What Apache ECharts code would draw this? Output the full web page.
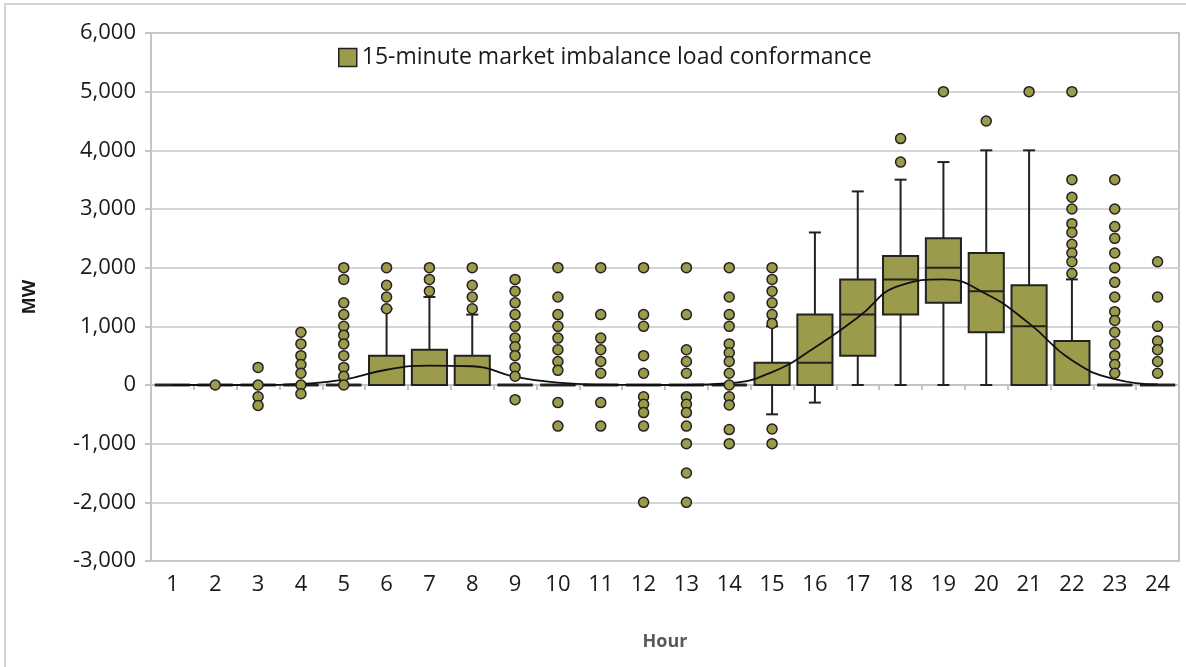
<!DOCTYPE html>
<html lang="en">
<head>
<meta charset="UTF-8">
<title>15-minute market imbalance load conformance</title>
<script src="https://cdn.jsdelivr.net/npm/echarts@6/dist/echarts.min.js"></script>
<style>
  html, body { margin: 0; padding: 0; background: #fff; }
  #chart { width: 1186px; height: 667px; }
</style>
</head>
<body>
<div id="chart"></div>
<script>
// hours on the x axis
var hours = ['1','2','3','4','5','6','7','8','9','10','11','12','13','14','15','16','17','18','19','20','21','22','23','24'];

// box statistics per hour (MW)
var whiskerLow  = [0,0,0,0,0,0,0,0,0,0,0,0,0,0,-500,-300,0,0,0,0,0,0,0,0];
var q1          = [0,0,0,0,0,0,0,0,0,0,0,0,0,0,0,0,500,1200,1400,900,0,0,0,0];
var median      = [0,0,0,0,0,0,0,0,0,0,0,0,0,0,0,380,1200,1800,2000,1600,1000,0,0,0];
var q3          = [0,0,0,0,0,500,600,500,0,0,0,0,0,0,380,1200,1800,2200,2500,2250,1700,750,0,0];
var whiskerHigh = [0,0,0,0,0,1300,1500,1200,0,0,0,0,0,0,1000,2600,3300,3500,3800,4000,4000,1800,0,0];

// average per hour (the black curve)
var means = [0,0,0,20,90,260,330,320,140,40,5,0,0,30,220,640,1150,1700,1800,1550,1050,420,100,10];

// outliers per hour
var outliers = [
  [],
  [0],
  [300, 0, -200, -350],
  [900, 700, 500, 350, 200, 0, -150],
  [2000, 1800, 1400, 1200, 1000, 850, 700, 500, 300, 150, 0],
  [2000, 1700, 1500, 1300],
  [2000, 1800, 1600],
  [2000, 1700, 1500, 1300],
  [1800, 1600, 1400, 1200, 1000, 800, 650, 500, 300, 150, -250],
  [2000, 1500, 1200, 1000, 800, 600, 400, 250, -300, -700],
  [2000, 1200, 800, 600, 400, 200, -300, -700],
  [2000, 1200, 1000, 500, 200, -200, -330, -470, -700, -2000],
  [2000, 1200, 600, 400, 200, -200, -330, -470, -700, -1000, -1500, -2000],
  [2000, 1500, 1200, 1000, 700, 550, 400, 200, 0, -200, -340, -760, -1000],
  [2000, 1800, 1600, 1400, 1200, 1050, -750, -1000],
  [],
  [],
  [4200, 3800],
  [5000],
  [4500],
  [5000],
  [5000, 3500, 3200, 3000, 2750, 2600, 2400, 2250, 2100, 1900],
  [3500, 3000, 2700, 2500, 2250, 2000, 1750, 1500, 1250, 1100, 900, 700, 500, 350, 200],
  [2100, 1500, 1000, 750, 600, 400, 200]
];

var seriesName = '15-minute market imbalance load conformance';
var olive = '#9b9b4b';
var dark = '#222';
var FONT = 'Open Sans';

var boxData = hours.map(function (h, i) {
  return [i, whiskerLow[i], q1[i], median[i], q3[i], whiskerHigh[i]];
});
var outlierData = [];
outliers.forEach(function (list, i) {
  list.forEach(function (v) { outlierData.push([i, v]); });
});

// box, median and whiskers drawn with the axis scales
function renderBox(params, api) {
  var x = api.value(0);
  var lo = api.coord([x, api.value(1)]);
  var b1 = api.coord([x, api.value(2)]);
  var md = api.coord([x, api.value(3)]);
  var b3 = api.coord([x, api.value(4)]);
  var hi = api.coord([x, api.value(5)]);
  var cx = b1[0];
  var half = api.size([1, 0])[0] * 0.41;
  var cap = 6;
  var st = { stroke: dark, lineWidth: 2 };
  var kids = [];
  if (hi[1] < b3[1] - 0.5) {
    kids.push({ type: 'line', shape: { x1: cx, y1: b3[1], x2: cx, y2: hi[1] }, style: st });
    kids.push({ type: 'line', shape: { x1: cx - cap, y1: hi[1], x2: cx + cap, y2: hi[1] }, style: st });
  }
  if (lo[1] > b1[1] + 0.5) {
    kids.push({ type: 'line', shape: { x1: cx, y1: b1[1], x2: cx, y2: lo[1] }, style: st });
    kids.push({ type: 'line', shape: { x1: cx - cap, y1: lo[1], x2: cx + cap, y2: lo[1] }, style: st });
  }
  var flat = (b1[1] - b3[1]) < 0.5;
  kids.push({
    type: 'rect',
    shape: { x: cx - half, y: b3[1], width: half * 2, height: b1[1] - b3[1] },
    style: { fill: olive, stroke: flat ? '#333' : dark, lineWidth: flat ? 3 : 2 }
  });
  kids.push({ type: 'line', shape: { x1: cx - half, y1: md[1], x2: cx + half, y2: md[1] }, style: st });
  return { type: 'group', children: kids };
}

var chart = echarts.init(document.getElementById('chart'));
chart.setOption({
  animation: false,
  backgroundColor: '#fff',
  graphic: [{
    type: 'rect',
    shape: { x: 5, y: 4, width: 1200, height: 700 },
    style: { fill: 'none', stroke: '#d4d4d4', lineWidth: 2 },
    silent: true
  }],
  legend: {
    data: [{ name: seriesName, icon: 'rect', itemStyle: { color: olive, borderColor: dark, borderWidth: 1.5 } }],
    left: 333,
    top: 41,
    itemWidth: 18,
    itemHeight: 18,
    itemGap: 5,
    textStyle: { fontFamily: FONT, fontSize: 23, color: '#1a1a1a' }
  },
  grid: {
    left: 151, right: 7, top: 33, bottom: 106,
    show: true, borderColor: '#c4c4c4', borderWidth: 2
  },
  xAxis: {
    type: 'category',
    data: hours,
    name: 'Hour',
    nameLocation: 'middle',
    nameGap: 72,
    nameTextStyle: { fontFamily: FONT, fontSize: 18, fontWeight: 'bold', color: '#595959' },
    axisLine: { lineStyle: { color: '#c4c4c4', width: 2 } },
    axisTick: { show: true, alignWithLabel: false, length: 5, lineStyle: { color: '#c4c4c4', width: 2 } },
    axisLabel: { fontFamily: FONT, fontSize: 22, color: '#1a1a1a', margin: 13 },
    splitLine: { show: false }
  },
  yAxis: {
    type: 'value',
    min: -3000,
    max: 6000,
    interval: 1000,
    name: 'MW',
    nameLocation: 'middle',
    nameGap: 112,
    nameTextStyle: { fontFamily: FONT, fontSize: 18, fontWeight: 'bold', color: '#1a1a1a' },
    axisLine: { show: true, lineStyle: { color: '#c4c4c4', width: 2 } },
    axisTick: { show: true, length: 6, lineStyle: { color: '#c4c4c4', width: 2 } },
    axisLabel: {
      fontFamily: FONT, fontSize: 22, color: '#1a1a1a', margin: 15,
      formatter: function (v) { return v.toLocaleString('en-US'); }
    },
    splitLine: { lineStyle: { color: '#c8c8c8', width: 1.5 } }
  },
  series: [
    {
      name: seriesName,
      type: 'custom',
      renderItem: renderBox,
      encode: { x: 0, y: [1, 2, 3, 4, 5] },
      itemStyle: { color: olive },
      data: boxData,
      z: 2
    },
    {
      name: 'mean',
      type: 'line',
      data: means,
      smooth: true,
      showSymbol: false,
      lineStyle: { color: '#111', width: 1.8 },
      z: 3
    },
    {
      name: 'outliers',
      type: 'scatter',
      data: outlierData,
      symbolSize: 10,
      itemStyle: { color: olive, borderColor: dark, borderWidth: 1.5, opacity: 1 },
      z: 4
    }
  ]
});
</script>
</body>
</html>
